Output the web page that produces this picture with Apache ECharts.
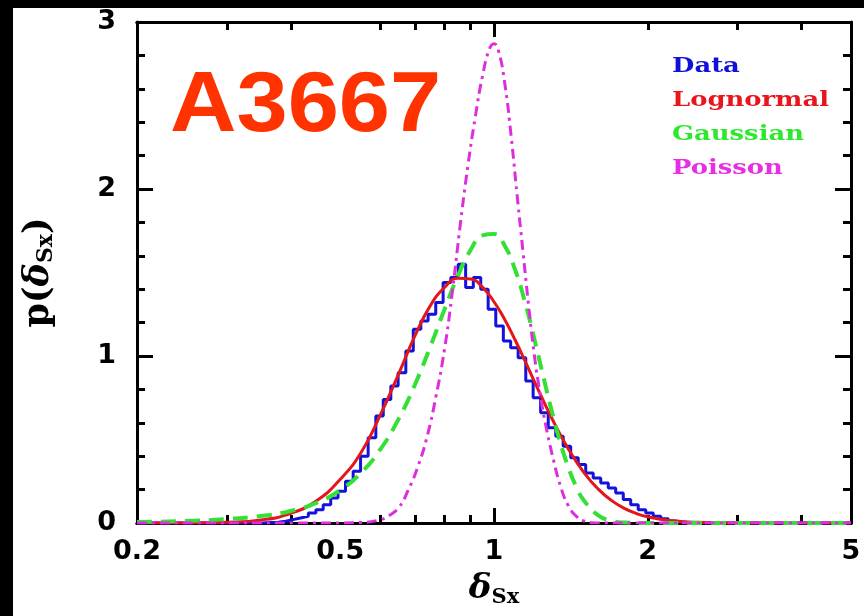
<!DOCTYPE html>
<html>
<head>
<meta charset="utf-8">
<script src="https://cdn.jsdelivr.net/npm/echarts@6/dist/echarts.min.js"></script>
<style>
  html, body { margin: 0; padding: 0; background: #ffffff; }
  #chart { width: 864px; height: 616px; }
</style>
</head>
<body>
<div id="chart"></div>
<script>
// Histogram of the measured field: left bin edges and bin heights
const dataEdges = [0.2, 0.330, 0.341, 0.353, 0.365, 0.378, 0.391, 0.404, 0.418, 0.433, 0.448, 0.463, 0.479, 0.495, 0.512, 0.530, 0.548, 0.567, 0.587, 0.607, 0.628, 0.649, 0.672, 0.695, 0.719, 0.743, 0.769, 0.795, 0.823, 0.851, 0.880, 0.911, 0.942, 0.974, 1.008, 1.043, 1.078, 1.115, 1.154, 1.193, 1.234, 1.277, 1.321, 1.366, 1.413, 1.462, 1.512, 1.564, 1.618, 1.674, 1.731, 1.791, 1.852, 1.916, 1.982, 2.050, 2.121, 2.194, 2.269, 2.347, 2.428, 5];
const dataVals = [0, 0, 0, 0.003, 0.005, 0.01, 0.02, 0.03, 0.04, 0.06, 0.08, 0.11, 0.15, 0.19, 0.25, 0.31, 0.40, 0.51, 0.64, 0.74, 0.82, 0.90, 1.03, 1.16, 1.21, 1.25, 1.32, 1.44, 1.47, 1.55, 1.41, 1.47, 1.40, 1.28, 1.18, 1.09, 1.05, 0.99, 0.85, 0.75, 0.66, 0.57, 0.52, 0.46, 0.39, 0.35, 0.30, 0.27, 0.24, 0.21, 0.18, 0.14, 0.11, 0.08, 0.06, 0.04, 0.025, 0.012, 0.005, 0.002, 0, 0];

// Lognormal model
const lognormX = [0.2, 0.25, 0.3, 0.35, 0.4, 0.45, 0.5, 0.55, 0.6, 0.65, 0.7, 0.75, 0.8, 0.85, 0.9, 0.95, 1.0, 1.05, 1.1, 1.15, 1.2, 1.3, 1.4, 1.5, 1.6, 1.7, 1.8, 1.9, 2.0, 2.2, 2.5, 3, 4, 5];
const lognormY = [0, 0.0002, 0.004, 0.018, 0.058, 0.135, 0.262, 0.425, 0.652, 0.89, 1.12, 1.30, 1.41, 1.465, 1.461, 1.411, 1.325, 1.217, 1.096, 0.971, 0.847, 0.623, 0.44, 0.302, 0.203, 0.134, 0.088, 0.057, 0.037, 0.015, 0.004, 0.0005, 0, 0];

// Gaussian model
const gaussX = [0.2, 0.25, 0.3, 0.35, 0.4, 0.45, 0.5, 0.55, 0.6, 0.65, 0.7, 0.75, 0.8, 0.85, 0.9, 0.95, 1.0, 1.05, 1.1, 1.15, 1.2, 1.25, 1.3, 1.35, 1.4, 1.45, 1.5, 1.6, 1.7, 1.8, 2.0, 3, 5];
const gaussY = [0.006, 0.012, 0.024, 0.042, 0.072, 0.122, 0.197, 0.302, 0.444, 0.621, 0.828, 1.054, 1.279, 1.48, 1.635, 1.722, 1.73, 1.659, 1.516, 1.322, 1.099, 0.872, 0.66, 0.476, 0.328, 0.215, 0.135, 0.046, 0.013, 0.003, 0, 0, 0];

// Poisson model
const poissonX = [0.2, 0.5, 0.55, 0.6, 0.62, 0.65, 0.68, 0.71, 0.74, 0.77, 0.8, 0.83, 0.86, 0.89, 0.92, 0.95, 0.98, 1.0, 1.02, 1.05, 1.08, 1.11, 1.14, 1.17, 1.2, 1.23, 1.26, 1.3, 1.35, 1.4, 1.45, 1.5, 1.6, 5];
const poissonY = [0, 0, 0.003, 0.02, 0.04, 0.09, 0.2, 0.34, 0.52, 0.76, 1.04, 1.40, 1.80, 2.15, 2.44, 2.68, 2.84, 2.87, 2.83, 2.63, 2.32, 1.96, 1.62, 1.29, 1.0, 0.78, 0.6, 0.41, 0.22, 0.1, 0.04, 0.012, 0, 0];

// Axis tick positions
const xLabelTicks = [0.2, 0.5, 1, 2, 5];
const xMajorTicks = [1];
const xMinorTicks = [0.3, 0.4, 0.6, 0.7, 0.8, 0.9, 2, 3, 4];

const legendItems = [
  { text: 'Data', color: '#1010d8' },
  { text: 'Lognormal', color: '#e8161c' },
  { text: 'Gaussian', color: '#2ee82e' },
  { text: 'Poisson', color: '#e52ee5' }
];

const zip = (xs, ys) => xs.map((x, i) => [x, ys[i]]);

const tickFont = { fontFamily: 'DejaVu Sans', fontWeight: 'bold', fontSize: 27, color: '#000' };
const axisLineStyle = { color: '#000', width: 3 };

function xAxisDef(position, ticks, len, withLabels) {
  return {
    type: 'log', logBase: 10, min: 0.2, max: 5, position: position, gridIndex: 0,
    axisLine: { show: true, onZero: false, lineStyle: axisLineStyle },
    axisTick: { show: true, inside: true, length: len, customValues: ticks, lineStyle: { color: '#000', width: 3 } },
    axisLabel: withLabels
      ? Object.assign({ show: true, margin: 15, customValues: xLabelTicks, formatter: v => String(v) }, tickFont)
      : { show: false },
    splitLine: { show: false },
    minorTick: { show: false },
    minorSplitLine: { show: false }
  };
}

function yAxisDef(position, withLabels) {
  const ax = {
    type: 'value', min: 0, max: 3, interval: 1, position: position,
    axisLine: { show: true, onZero: false, lineStyle: axisLineStyle },
    axisTick: { show: true, inside: true, length: 16, lineStyle: { color: '#000', width: 3 } },
    minorTick: { show: true, splitNumber: 5, length: 8, lineStyle: { color: '#000', width: 3 } },
    axisLabel: withLabels ? Object.assign({ show: true, margin: 21 }, tickFont) : { show: false },
    splitLine: { show: false }
  };
  if (withLabels) {
    ax.name = '{p|p(}{d|δ}{s|Sx}{p|)}';
    ax.nameLocation = 'middle';
    ax.nameRotate = 90;
    ax.nameGap = 80;
    ax.nameTextStyle = {
      rich: {
        p: { fontFamily: 'DejaVu Serif', fontWeight: 'bold', fontSize: 35, color: '#000' },
        d: { fontFamily: 'DejaVu Serif', fontWeight: 'bold', fontStyle: 'italic', fontSize: 35, color: '#000' },
        s: { fontFamily: 'DejaVu Serif', fontWeight: 'bold', fontSize: 22, color: '#000', padding: [14, 0, 0, 0] }
      }
    };
  }
  return ax;
}

const bottomAxis = xAxisDef('bottom', xMajorTicks, 15, true);
bottomAxis.name = '{d|δ}{s|Sx}';
bottomAxis.nameLocation = 'middle';
bottomAxis.nameGap = 48;
bottomAxis.nameTextStyle = {
  rich: {
    d: { fontFamily: 'DejaVu Serif', fontWeight: 'bold', fontStyle: 'italic', fontSize: 34, color: '#000' },
    s: { fontFamily: 'DejaVu Serif', fontWeight: 'bold', fontSize: 21, color: '#000', padding: [16, 0, 0, 0] }
  }
};

const option = {
  backgroundColor: '#ffffff',
  animation: false,
  grid: { left: 137, right: 13, top: 22, bottom: 93, containLabel: false, outerBoundsMode: 'none' },
  xAxis: [
    bottomAxis,
    xAxisDef('bottom', xMinorTicks, 8, false),
    xAxisDef('top', xMajorTicks, 15, false),
    xAxisDef('top', xMinorTicks, 8, false)
  ],
  yAxis: [yAxisDef('left', true), yAxisDef('right', false)],
  graphic: [
    { type: 'rect', z: -10, shape: { x: 0, y: 0, width: 864, height: 8 }, style: { fill: '#000' }, silent: true },
    { type: 'rect', z: -10, shape: { x: 0, y: 0, width: 13, height: 616 }, style: { fill: '#000' }, silent: true },
    {
      type: 'text', x: 170, y: 107, scaleX: 1.07, silent: true,
      style: {
        text: 'A3667', fill: '#ff3300', textVerticalAlign: 'middle', textAlign: 'left',
        font: 'bold 86px "Liberation Sans"'
      }
    }
  ].concat(legendItems.map((it, i) => ({
    type: 'text', x: 672, y: 67 + i * 34, scaleX: 1.23, silent: true,
    style: {
      text: it.text, fill: it.color, textVerticalAlign: 'middle', textAlign: 'left',
      font: 'bold 21px "DejaVu Serif"'
    }
  }))),
  series: [
    {
      name: 'Data', type: 'line', step: 'end', showSymbol: false, symbol: 'none',
      data: zip(dataEdges, dataVals),
      lineStyle: { color: '#1212dd', width: 3 }, z: 2
    },
    {
      name: 'Lognormal', type: 'line', smooth: true, showSymbol: false, symbol: 'none',
      data: zip(lognormX, lognormY),
      lineStyle: { color: '#e3161b', width: 3 }, z: 3
    },
    {
      name: 'Gaussian', type: 'line', smooth: true, showSymbol: false, symbol: 'none',
      data: zip(gaussX, gaussY),
      lineStyle: { color: '#33e033', width: 4, type: [15, 9] }, z: 4
    },
    {
      name: 'Poisson', type: 'line', smooth: true, showSymbol: false, symbol: 'none',
      data: zip(poissonX, poissonY),
      lineStyle: { color: '#dd2edd', width: 3, type: [10, 5, 3, 5] }, z: 5
    }
  ]
};

const chart = echarts.init(document.getElementById('chart'), null, { renderer: 'canvas' });
chart.setOption(option);
</script>
</body>
</html>
